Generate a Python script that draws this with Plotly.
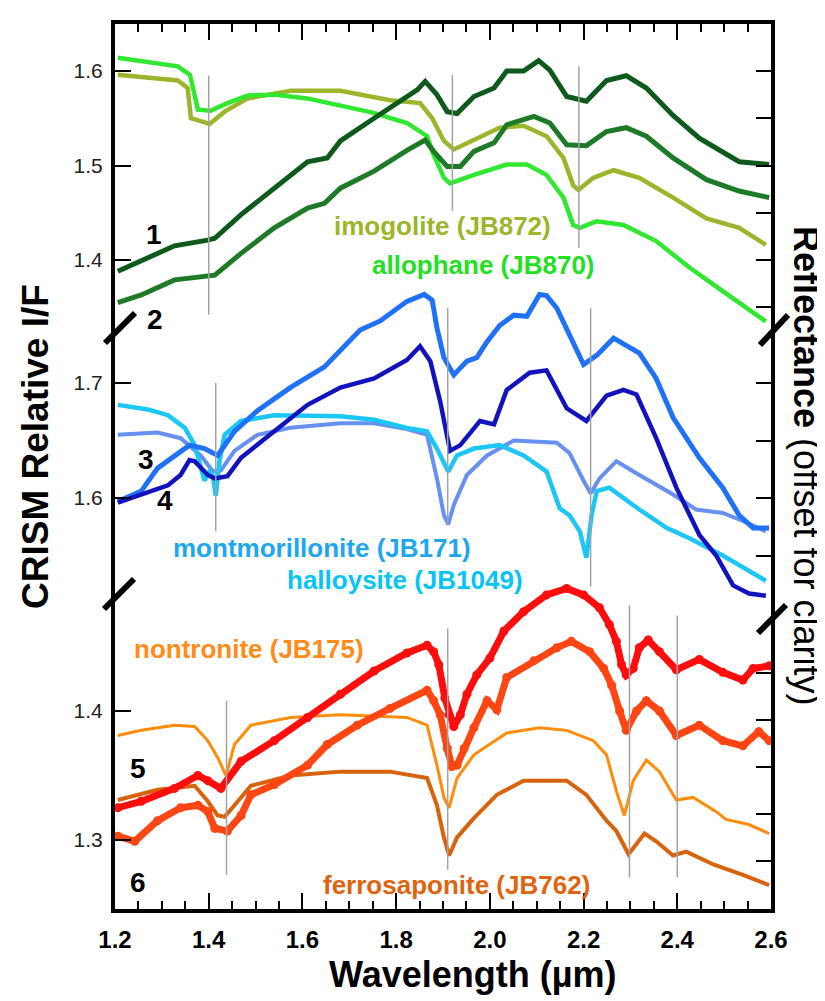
import plotly.graph_objects as go

# ---------------- data (wavelength in µm, values in each panel's axis units) ----------------
# top panel: CRISM spectra 1, 2 and lab spectra imogolite / allophane
s1_w = [1.206,1.256,1.327,1.398,1.413,1.469,1.540,1.611,1.653,1.681,1.753,1.823,1.845,1.862,1.887,1.909,1.930,1.966,2.009,2.036,2.072,2.104,2.128,2.164,2.206,2.249,2.291,2.334,2.391,2.447,2.497,2.532,2.596]
s1_v = [1.388,1.399,1.415,1.421,1.423,1.448,1.476,1.504,1.508,1.526,1.550,1.573,1.580,1.589,1.575,1.557,1.555,1.573,1.582,1.600,1.600,1.611,1.601,1.573,1.568,1.590,1.595,1.582,1.553,1.529,1.515,1.504,1.501]
s2_w = [1.206,1.256,1.327,1.398,1.413,1.469,1.540,1.611,1.647,1.681,1.753,1.823,1.845,1.862,1.880,1.909,1.937,1.966,2.009,2.036,2.094,2.128,2.164,2.206,2.249,2.291,2.334,2.391,2.462,2.532,2.596]
s2_v = [1.355,1.363,1.379,1.384,1.384,1.407,1.434,1.455,1.460,1.476,1.494,1.516,1.522,1.527,1.515,1.499,1.499,1.515,1.524,1.543,1.552,1.545,1.522,1.521,1.536,1.540,1.531,1.508,1.485,1.473,1.466]
al_w = [1.206,1.334,1.360,1.377,1.404,1.440,1.483,1.540,1.610,1.681,1.750,1.823,1.866,1.877,1.902,1.915,1.966,2.036,2.079,2.121,2.157,2.178,2.192,2.228,2.285,2.355,2.426,2.497,2.589]
al_v = [1.614,1.605,1.596,1.559,1.558,1.566,1.574,1.575,1.571,1.564,1.556,1.545,1.531,1.515,1.487,1.481,1.490,1.501,1.501,1.490,1.466,1.437,1.434,1.441,1.437,1.420,1.392,1.367,1.335]
im_w = [1.206,1.334,1.355,1.362,1.383,1.402,1.434,1.483,1.575,1.681,1.787,1.851,1.877,1.902,1.923,1.966,2.021,2.072,2.121,2.157,2.178,2.189,2.221,2.264,2.319,2.391,2.462,2.532,2.589]
im_v = [1.596,1.590,1.582,1.550,1.547,1.544,1.557,1.571,1.579,1.579,1.569,1.566,1.550,1.526,1.517,1.527,1.540,1.542,1.531,1.508,1.479,1.474,1.487,1.495,1.487,1.466,1.444,1.434,1.416]

# middle panel: CRISM spectra 3, 4 and montmorillonite / halloysite
s3_w = [1.206,1.256,1.291,1.327,1.359,1.391,1.419,1.455,1.504,1.574,1.647,1.723,1.766,1.823,1.860,1.877,1.887,1.902,1.923,1.951,1.972,1.994,2.021,2.051,2.079,2.106,2.121,2.143,2.170,2.200,2.228,2.264,2.319,2.355,2.391,2.447,2.497,2.532,2.562,2.596]
s3_v = [1.597,1.606,1.626,1.637,1.646,1.643,1.637,1.658,1.676,1.696,1.714,1.746,1.754,1.771,1.777,1.772,1.748,1.722,1.707,1.719,1.722,1.736,1.750,1.759,1.758,1.777,1.776,1.765,1.742,1.716,1.724,1.739,1.726,1.704,1.670,1.635,1.609,1.585,1.574,1.574]
s4_w = [1.206,1.256,1.313,1.340,1.359,1.370,1.398,1.413,1.440,1.469,1.540,1.611,1.681,1.753,1.823,1.851,1.873,1.894,1.915,1.937,1.979,2.009,2.036,2.085,2.121,2.164,2.206,2.249,2.285,2.313,2.355,2.398,2.447,2.483,2.519,2.553,2.589]
s4_v = [1.596,1.603,1.611,1.620,1.633,1.632,1.620,1.617,1.619,1.635,1.658,1.681,1.696,1.704,1.720,1.732,1.719,1.684,1.641,1.646,1.667,1.664,1.694,1.709,1.711,1.678,1.667,1.689,1.694,1.690,1.652,1.609,1.568,1.550,1.524,1.517,1.515]
mo_w = [1.206,1.291,1.340,1.383,1.409,1.426,1.455,1.504,1.574,1.681,1.753,1.823,1.866,1.887,1.902,1.911,1.923,1.951,1.994,2.051,2.143,2.170,2.200,2.215,2.234,2.270,2.319,2.391,2.440,2.497,2.540,2.589]
mo_v = [1.655,1.657,1.652,1.637,1.623,1.624,1.641,1.655,1.661,1.665,1.665,1.660,1.655,1.617,1.585,1.577,1.594,1.620,1.637,1.650,1.648,1.639,1.615,1.604,1.617,1.632,1.620,1.603,1.590,1.587,1.580,1.571]
ha_w = [1.206,1.270,1.313,1.349,1.370,1.383,1.391,1.402,1.409,1.415,1.423,1.434,1.469,1.540,1.681,1.753,1.823,1.866,1.887,1.911,1.930,1.966,2.021,2.072,2.121,2.149,2.170,2.192,2.206,2.217,2.228,2.255,2.319,2.377,2.426,2.497,2.589]
ha_v = [1.681,1.677,1.672,1.661,1.646,1.626,1.615,1.623,1.619,1.602,1.632,1.655,1.667,1.672,1.671,1.668,1.661,1.658,1.643,1.623,1.637,1.643,1.646,1.637,1.623,1.591,1.585,1.571,1.548,1.585,1.606,1.609,1.590,1.574,1.565,1.550,1.528]

# bottom panel: CRISM spectra 5, 6 and nontronite / ferrosaponite
s5_w = [1.206,1.256,1.327,1.377,1.398,1.426,1.469,1.540,1.611,1.681,1.753,1.823,1.866,1.880,1.891,1.904,1.913,1.923,1.937,1.951,1.972,2.000,2.030,2.072,2.121,2.164,2.200,2.234,2.255,2.270,2.281,2.291,2.306,2.319,2.338,2.362,2.398,2.447,2.497,2.540,2.562,2.596]
s5_v = [1.325,1.330,1.340,1.350,1.346,1.340,1.361,1.377,1.395,1.413,1.431,1.445,1.451,1.446,1.436,1.410,1.397,1.388,1.397,1.413,1.428,1.441,1.462,1.477,1.490,1.495,1.490,1.480,1.467,1.454,1.436,1.428,1.433,1.449,1.455,1.446,1.432,1.440,1.430,1.424,1.433,1.435]
s6_w = [1.206,1.242,1.291,1.340,1.377,1.398,1.413,1.440,1.469,1.490,1.540,1.611,1.653,1.717,1.787,1.866,1.880,1.894,1.909,1.919,1.930,1.945,1.966,1.994,2.015,2.036,2.094,2.143,2.174,2.213,2.243,2.260,2.277,2.291,2.313,2.334,2.362,2.398,2.447,2.497,2.540,2.574,2.596]
s6_v = [1.303,1.299,1.315,1.325,1.327,1.322,1.309,1.307,1.319,1.335,1.343,1.358,1.374,1.389,1.402,1.416,1.408,1.397,1.371,1.357,1.358,1.371,1.387,1.408,1.401,1.426,1.439,1.449,1.454,1.446,1.433,1.420,1.400,1.385,1.400,1.408,1.400,1.381,1.389,1.377,1.373,1.384,1.377]
no_w = [1.206,1.256,1.327,1.370,1.398,1.419,1.437,1.455,1.490,1.575,1.681,1.823,1.866,1.887,1.902,1.913,1.930,1.966,2.036,2.106,2.164,2.221,2.249,2.270,2.287,2.306,2.334,2.362,2.398,2.434,2.483,2.504,2.553,2.596]
no_v = [1.381,1.385,1.389,1.388,1.377,1.364,1.350,1.374,1.389,1.395,1.397,1.395,1.389,1.358,1.333,1.325,1.348,1.366,1.383,1.387,1.385,1.377,1.366,1.338,1.319,1.346,1.362,1.353,1.331,1.333,1.322,1.316,1.312,1.305]
fe_w = [1.206,1.291,1.370,1.398,1.419,1.434,1.455,1.490,1.575,1.681,1.787,1.866,1.887,1.902,1.913,1.930,1.966,2.015,2.072,2.164,2.206,2.249,2.270,2.296,2.330,2.355,2.391,2.419,2.477,2.540,2.596]
fe_v = [1.331,1.339,1.342,1.330,1.319,1.318,1.327,1.342,1.350,1.353,1.353,1.348,1.327,1.302,1.288,1.302,1.317,1.335,1.346,1.346,1.335,1.315,1.307,1.289,1.305,1.299,1.288,1.291,1.281,1.273,1.265]

# vertical band markers (wavelength, lower end, upper end) per panel
vl_top_x = [1.400, 1.920, 2.190]
vl_top_lo = [1.342, 1.452, 1.413]
vl_top_hi = [1.595, 1.596, 1.605]
vl_mid_x = [1.415, 1.910, 2.215]
vl_mid_lo = [1.571, 1.577, 1.523]
vl_mid_hi = [1.700, 1.765, 1.765]
vl_bot_x = [1.438, 1.910, 2.298, 2.400]
vl_bot_lo = [1.273, 1.277, 1.271, 1.271]
vl_bot_hi = [1.408, 1.464, 1.482, 1.474]

# tick labels
x_ticks = [1.2, 1.4, 1.6, 1.8, 2.0, 2.2, 2.4, 2.6]
top_left_ticks = [1.4, 1.5, 1.6]
mid_left_ticks = [1.6, 1.7]
bot_left_ticks = [1.3, 1.4]
top_right_ticks = [1.35, 1.40, 1.45, 1.50, 1.55, 1.60]
mid_right_ticks = [1.55, 1.60, 1.65, 1.70]
bot_right_ticks = [1.2837, 1.3202, 1.3566, 1.3930, 1.4295]

# ---------------- layout geometry ----------------
W, H = 825, 1001
L, R, T, B = 107, 763, 16, 901
def pxx(p):
    return (p - L) / (R - L)
def pxy(p):
    return (B - p) / (B - T)

RANGE_TOP = [0.71323, 1.64974]
RANGE_MID = [1.24261, 2.01217]
RANGE_BOT = [1.24651, 1.93256]

FONT = "Liberation Sans, Arial, Helvetica, sans-serif"
GRAY = "#a3a3a3"

fig = go.Figure()

def vlines(xs, lo, hi, yax):
    X, Y = [], []
    for x, a, b in zip(xs, lo, hi):
        X += [x, x, None]
        Y += [a, b, None]
    fig.add_trace(go.Scatter(x=X, y=Y, mode="lines", yaxis=yax,
                             line=dict(color=GRAY, width=1.5), hoverinfo="skip"))

vlines(vl_top_x, vl_top_lo, vl_top_hi, "y4")
vlines(vl_mid_x, vl_mid_lo, vl_mid_hi, "y5")
vlines(vl_bot_x, vl_bot_lo, vl_bot_hi, "y6")

def line(w, v, color, width, yax):
    fig.add_trace(go.Scatter(x=w, y=v, mode="lines", yaxis=yax,
                             line=dict(color=color, width=width, shape="linear")))

# top
line(im_w, im_v, "#9bb62a", 4.5, "y")
line(al_w, al_v, "#2fe82f", 4.5, "y")
line(s2_w, s2_v, "#1d7a27", 5, "y")
line(s1_w, s1_v, "#0d5a1c", 5, "y")
# middle
line(mo_w, mo_v, "#6690f2", 4, "y2")
line(ha_w, ha_v, "#1cc6f6", 4.5, "y2")
line(s3_w, s3_v, "#1f72f7", 5, "y2")
line(s4_w, s4_v, "#1212bf", 4.5, "y2")
# bottom
line(no_w, no_v, "#ff8c0a", 3, "y3")
line(fe_w, fe_v, "#d9620c", 4, "y3")
for w, v, c in [(s6_w, s6_v, "#ff4512"), (s5_w, s5_v, "#ff0d0d")]:
    fig.add_trace(go.Scatter(x=w, y=v, mode="lines+markers", yaxis="y3",
                             line=dict(color=c, width=7),
                             marker=dict(color=c, size=9)))

# ---------------- axes ----------------
common_y = dict(showgrid=False, zeroline=False, showline=True, linewidth=4,
                linecolor="black", ticks="inside", ticklen=16, tickwidth=2,
                tickcolor="black", domain=[0, 1], anchor="x",
                tickfont=dict(family=FONT, size=21, color="#222"),
                ticklabelstandoff=4, tickformat=".1f")

fig.update_layout(
    width=W, height=H,
    margin=dict(l=L, r=W - R, t=T, b=H - B),
    paper_bgcolor="white", plot_bgcolor="white",
    showlegend=False,
    xaxis=dict(range=[1.2, 2.6], tickvals=x_ticks, tickformat=".1f",
               showgrid=False, zeroline=False, showline=True, linewidth=4,
               linecolor="black", mirror="ticks", ticks="inside", ticklen=16,
               tickwidth=2, tickcolor="black",
               minor=dict(dtick=0.05, tick0=1.2, ticks="inside", ticklen=8,
                          tickwidth=2, tickcolor="black", showgrid=False),
               tickfont=dict(family=FONT, size=24, color="black", weight="bold"),
               ticklabelstandoff=6),
    yaxis=dict(range=RANGE_TOP, tickvals=top_left_ticks, side="left", **common_y),
    yaxis2=dict(range=RANGE_MID, tickvals=mid_left_ticks, side="left",
                overlaying="y", **common_y),
    yaxis3=dict(range=RANGE_BOT, tickvals=bot_left_ticks, side="left",
                overlaying="y", **common_y),
    yaxis4=dict(range=RANGE_TOP, tickvals=top_right_ticks, side="right",
                overlaying="y", showticklabels=False,
                **{k: v for k, v in common_y.items() if k not in ("ticklen",)}, ticklen=15),
    yaxis5=dict(range=RANGE_MID, tickvals=mid_right_ticks, side="right",
                overlaying="y", showticklabels=False,
                **{k: v for k, v in common_y.items() if k not in ("ticklen",)}, ticklen=15),
    yaxis6=dict(range=RANGE_BOT, tickvals=bot_right_ticks, side="right",
                overlaying="y", showticklabels=False,
                **{k: v for k, v in common_y.items() if k not in ("ticklen",)}, ticklen=15),
)

# axis break marks
breaks = [((97, 335), (127, 305)), ((96, 601), (126, 571)),
          ((752, 337), (780, 307)), ((750, 625), (778, 597))]
for (x0, y0), (x1, y1) in breaks:
    fig.add_shape(type="line", xref="paper", yref="paper",
                  x0=pxx(x0), y0=pxy(y0), x1=pxx(x1), y1=pxy(y1),
                  line=dict(color="black", width=6), layer="above")

# text labels
labels = [
    ("1", 146, 226, "black", 28), ("2", 147, 311, "black", 28),
    ("3", 138, 452, "black", 28), ("4", 157, 492, "black", 28),
    ("5", 130, 760, "black", 28), ("6", 130, 874, "black", 28),
    ("imogolite (JB872)", 434, 218, "#9bb62a", 26),
    ("allophane (JB870)", 475, 257, "#22e022", 26),
    ("montmorillonite (JB171)", 314, 540, "#1ea6ee", 26),
    ("halloysite (JB1049)", 397, 572, "#06c4f4", 26),
    ("nontronite (JB175)", 241, 641, "#ff8c1a", 26),
    ("ferrosaponite (JB762)", 448, 877, "#e0640f", 26),
]
for txt, x, y, c, s in labels:
    fig.add_annotation(text=txt, x=pxx(x), y=pxy(y), xref="paper", yref="paper",
                       xanchor="center", yanchor="middle", showarrow=False,
                       font=dict(family=FONT, size=s, color=c, weight="bold"))

fig.add_annotation(text="CRISM Relative I/F", x=pxx(27), y=pxy(439),
                   xref="paper", yref="paper", textangle=-90, showarrow=False,
                   xanchor="center", yanchor="middle",
                   font=dict(family=FONT, size=37, color="black", weight="bold"))
fig.add_annotation(text="<b>Reflectance</b> (offset for clarity)", x=pxx(799), y=pxy(458),
                   xref="paper", yref="paper", textangle=90, showarrow=False,
                   xanchor="center", yanchor="middle",
                   font=dict(family=FONT, size=36, color="black"))
fig.add_annotation(text="Wavelength (µm)", x=pxx(464), y=pxy(966),
                   xref="paper", yref="paper", showarrow=False,
                   xanchor="center", yanchor="middle",
                   font=dict(family=FONT, size=36, color="black", weight="bold"))

fig.write_html("out.html")
